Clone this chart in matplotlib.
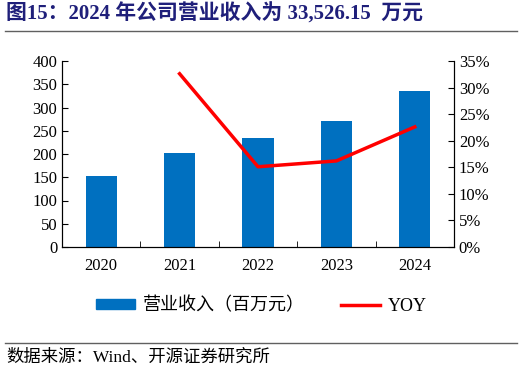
import matplotlib.pyplot as plt
from matplotlib.lines import Line2D
from matplotlib.patches import Patch
from matplotlib.ticker import FuncFormatter

plt.rcParams['font.family'] = ['Liberation Serif', 'Noto Sans CJK SC']

years = ['2020', '2021', '2022', '2023', '2024']
revenue = [153, 203, 234, 272, 335.3]      # 百万元
yoy = [None, 32.6, 15.1, 16.2, 22.6]       # %

fig = plt.figure(figsize=(5.22, 3.73), dpi=100)
ax = fig.add_axes([62 / 522, 1 - 247 / 373, (454 - 62) / 522, (247 - 61) / 373])

x = list(range(len(years)))
ax.bar(x, revenue, width=0.4, color='#0070C0')
ax.set_ylim(0, 400)
ax.set_yticks(range(0, 401, 50))
ax.set_xlim(-0.5, len(years) - 0.5)
ax.set_xticks(x)
ax.set_xticklabels(years)
ax.set_xticks([i + 0.5 for i in x[:-1]], minor=True)
ax.tick_params(axis='x', which='major', length=0, labelsize=12, pad=8)
ax.tick_params(axis='x', which='minor', length=4, direction='in')
ax.tick_params(axis='y', direction='in', length=4, labelsize=12)
ax.spines['top'].set_visible(False)

ax2 = ax.twinx()
ax2.plot(x[1:], yoy[1:], color='#FF0000', lw=2.5)
ax2.set_ylim(0, 35)
ax2.set_yticks(range(0, 36, 5))
ax2.yaxis.set_major_formatter(FuncFormatter(lambda v, p: f'{v:.0f}%'))
ax2.tick_params(axis='y', direction='in', length=4, labelsize=12)
ax2.spines['top'].set_visible(False)

# 图例
handles = [Patch(color='#0070C0'), Line2D([0], [0], color='#FF0000', lw=2.5)]
labels = ['营业收入（百万元）', 'YOY']
fig.legend(handles, labels, loc='center', bbox_to_anchor=(0.5, 1 - 306 / 373),
           ncol=2, frameon=False, fontsize=13, handlelength=2.2, handleheight=0.5,
           handletextpad=0.4, columnspacing=2.0)

# 标题和来源
fig.text(0.012, 1 - 14 / 373, '图15：2024 年公司营业收入为 33,526.15  万元', fontsize=15,
         fontweight='bold', color='#1F1F7A', va='center')
fig.add_artist(Line2D([5 / 522, 517 / 522], [1 - 31 / 373] * 2, color='#606060', lw=1))
fig.add_artist(Line2D([5 / 522, 517 / 522], [1 - 343 / 373] * 2, color='#606060', lw=1))
fig.text(0.012, 1 - 358 / 373, '数据来源：Wind、开源证券研究所', fontsize=12.5, va='center')

fig.savefig('out.png', dpi=100)
